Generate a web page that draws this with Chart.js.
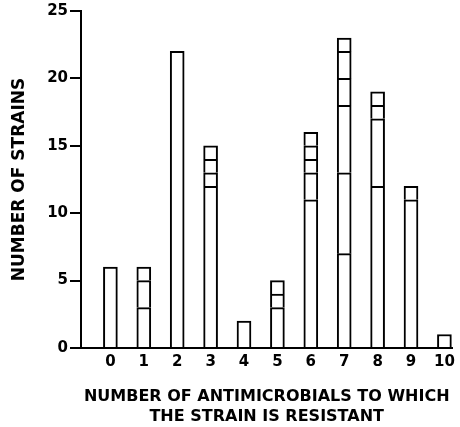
<!DOCTYPE html>
<html>
<head>
<meta charset="utf-8">
<script src="https://cdn.jsdelivr.net/npm/chart.js@4"></script>
<style>
  html, body { margin: 0; padding: 0; background: #fff; }
  #wrap { width: 460px; height: 427px; }
</style>
</head>
<body>
<div id="wrap"><canvas id="chart"></canvas></div>
<script>
// number of antimicrobials (x categories)
const resistCounts = [0, 1, 2, 3, 4, 5, 6, 7, 8, 9, 10];

// stacked segments of each bar, bottom to top (null = no segment)
const seg1 = [6, 3, 22, 12, 2, 3, 11, 7, 12, 11, 1];
const seg2 = [null, 2, null, 1, null, 1, 2, 6, 5, 1, null];
const seg3 = [null, 1, null, 1, null, 1, 1, 5, 1, null, null];
const seg4 = [null, null, null, 1, null, null, 1, 2, 1, null, null];
const seg5 = [null, null, null, null, null, null, 1, 2, null, null, null];
const seg6 = [null, null, null, null, null, null, null, 1, null, null, null];

const yTicks = [0, 5, 10, 15, 20, 25];

const FONT = "'DejaVu Sans', 'Liberation Sans', Arial, sans-serif";

const toPoints = (arr) => resistCounts.map((x, i) => ({ x, y: arr[i] }));

const makeSet = (arr) => ({
  data: toPoints(arr),
  backgroundColor: "#fff",
  borderColor: "#000",
  borderWidth: 2,
  borderSkipped: "start",
  barThickness: 14,
  grouped: false,
});

const ctx = document.getElementById("chart").getContext("2d");

new Chart(ctx, {
  type: "bar",
  data: {
    datasets: [seg1, seg2, seg3, seg4, seg5, seg6].map(makeSet),
  },
  options: {
    responsive: true,
    maintainAspectRatio: false,
    animation: false,
    layout: { padding: { top: 8, right: 7, left: 0, bottom: 0 } },
    plugins: { legend: { display: false }, tooltip: { enabled: false } },
    scales: {
      x: {
        type: "linear",
        offset: false,
        min: -0.88,
        max: 10.24,
        afterBuildTicks: (scale) => {
          scale.ticks = resistCounts.map((v) => ({ value: v }));
        },
        afterFit: (scale) => { scale.height = 79; },
        grid: { display: true, drawOnChartArea: false, drawTicks: false, offset: false },
        border: { display: true, color: "#000", width: 2 },
        ticks: {
          color: "#000",
          padding: 5,
          autoSkip: false,
          maxRotation: 0,
          font: { family: FONT, size: 15, weight: "bold" },
        },
        title: {
          display: true,
          text: ["NUMBER OF ANTIMICROBIALS TO WHICH", "THE STRAIN IS RESISTANT"],
          color: "#000",
          font: { family: FONT, size: 16, weight: "bold", lineHeight: 1.2 },
          padding: { top: 0, bottom: 1 },
        },
      },
      y: {
        stacked: true,
        min: 0,
        max: 25,
        afterBuildTicks: (scale) => {
          scale.ticks = yTicks.map((v) => ({ value: v }));
        },
        afterFit: (scale) => { scale.width = 81; },
        grid: {
          display: true,
          drawOnChartArea: false,
          drawTicks: true,
          tickLength: 11,
          color: "#000",
          tickColor: "#000",
          lineWidth: 2,
          tickWidth: 2,
        },
        border: { display: true, color: "#000", width: 2 },
        ticks: {
          color: "#000",
          padding: 2,
          font: { family: FONT, size: 15, weight: "bold" },
        },
        title: {
          display: true,
          text: "NUMBER OF STRAINS",
          color: "#000",
          font: { family: FONT, size: 17, weight: "bold" },
          padding: { top: 9, bottom: 0 },
        },
      },
    },
  },
});
</script>
</body>
</html>
